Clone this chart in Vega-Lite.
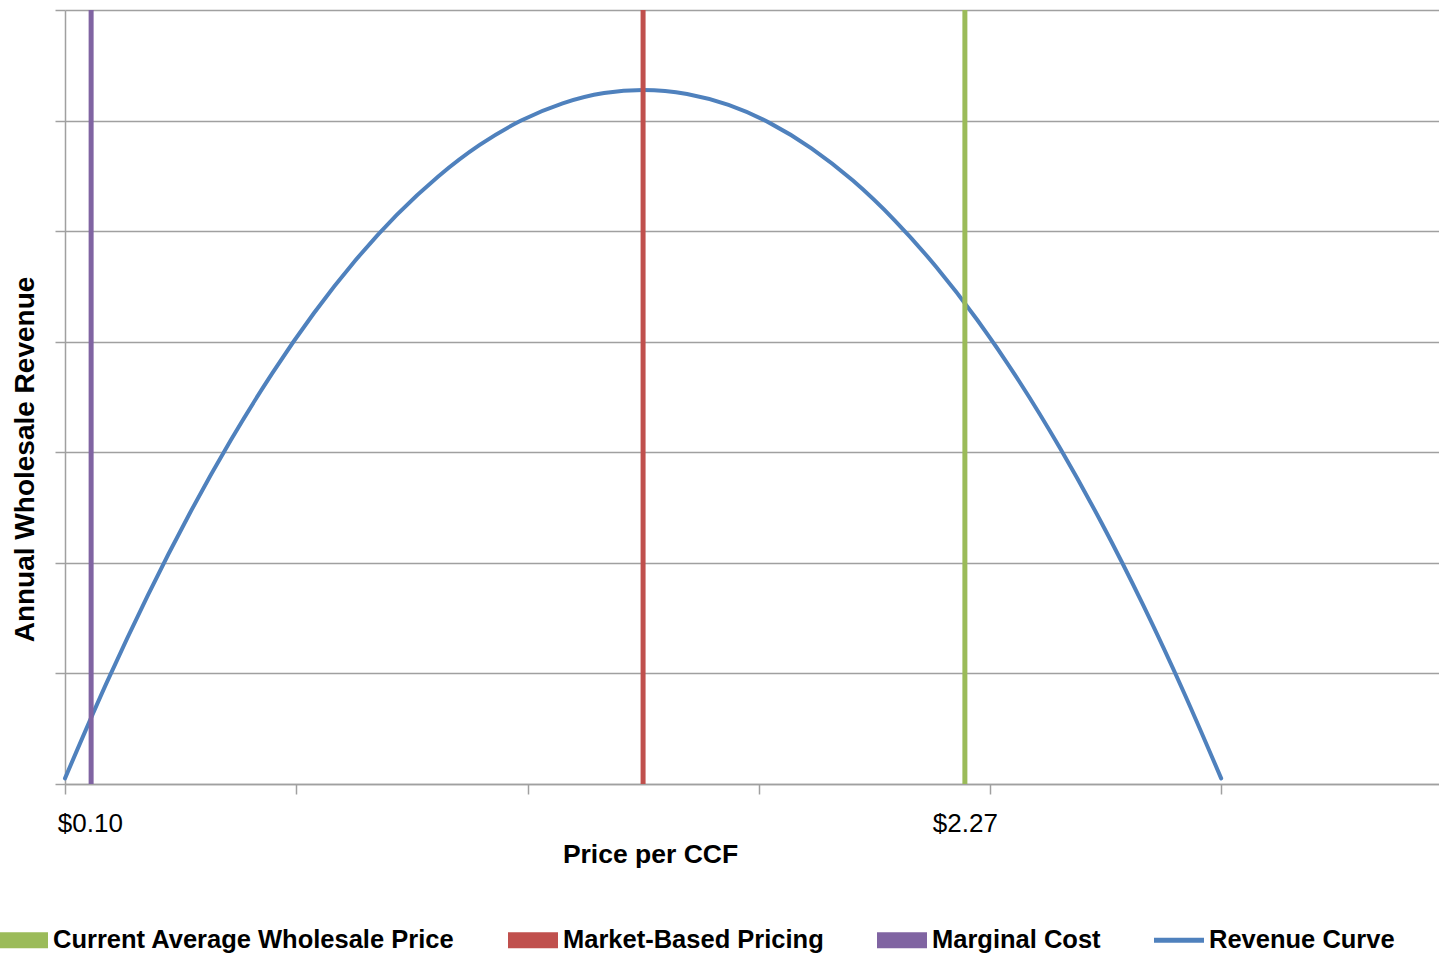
{
  "$schema": "https://vega.github.io/schema/vega-lite/v6.json",
  "width": 1374,
  "height": 774,
  "autosize": "none",
  "padding": {"left": 65, "top": 10, "right": 0, "bottom": 171},
  "background": "white",
  "config": {
    "view": {"stroke": null},
    "font": "Liberation Sans"
  },
  "layer": [
    {
      "data": {"values": [
        {"price": 0.10, "revenue": 0.051, "series": "Revenue Curve"},
        {"price": 0.20, "revenue": 0.912, "series": "Revenue Curve"},
        {"price": 0.30, "revenue": 1.709, "series": "Revenue Curve"},
        {"price": 0.40, "revenue": 2.442, "series": "Revenue Curve"},
        {"price": 0.50, "revenue": 3.111, "series": "Revenue Curve"},
        {"price": 0.60, "revenue": 3.716, "series": "Revenue Curve"},
        {"price": 0.70, "revenue": 4.257, "series": "Revenue Curve"},
        {"price": 0.80, "revenue": 4.734, "series": "Revenue Curve"},
        {"price": 0.90, "revenue": 5.147, "series": "Revenue Curve"},
        {"price": 1.00, "revenue": 5.495, "series": "Revenue Curve"},
        {"price": 1.10, "revenue": 5.780, "series": "Revenue Curve"},
        {"price": 1.20, "revenue": 6.000, "series": "Revenue Curve"},
        {"price": 1.30, "revenue": 6.156, "series": "Revenue Curve"},
        {"price": 1.40, "revenue": 6.249, "series": "Revenue Curve"},
        {"price": 1.494, "revenue": 6.277, "series": "Revenue Curve"},
        {"price": 1.60, "revenue": 6.241, "series": "Revenue Curve"},
        {"price": 1.70, "revenue": 6.141, "series": "Revenue Curve"},
        {"price": 1.80, "revenue": 5.977, "series": "Revenue Curve"},
        {"price": 1.90, "revenue": 5.749, "series": "Revenue Curve"},
        {"price": 2.00, "revenue": 5.457, "series": "Revenue Curve"},
        {"price": 2.10, "revenue": 5.100, "series": "Revenue Curve"},
        {"price": 2.20, "revenue": 4.680, "series": "Revenue Curve"},
        {"price": 2.30, "revenue": 4.196, "series": "Revenue Curve"},
        {"price": 2.40, "revenue": 3.647, "series": "Revenue Curve"},
        {"price": 2.50, "revenue": 3.034, "series": "Revenue Curve"},
        {"price": 2.60, "revenue": 2.358, "series": "Revenue Curve"},
        {"price": 2.70, "revenue": 1.617, "series": "Revenue Curve"},
        {"price": 2.80, "revenue": 0.812, "series": "Revenue Curve"},
        {"price": 2.888, "revenue": 0.051, "series": "Revenue Curve"}
      ]},
      "mark": {"type": "line", "strokeWidth": 4, "interpolate": "monotone", "strokeCap": "round"},
      "encoding": {
        "x": {
          "field": "price", "type": "quantitative",
          "scale": {"domain": [0.10, 3.4133], "nice": false, "zero": false},
          "axis": {
            "values": [0.10, 0.16, 0.6577, 1.2154, 1.7731, 2.27, 2.3308, 2.8885],
            "grid": false,
            "domainColor": "#a0a0a0",
            "domainWidth": 1.5,
            "tickColor": "#a0a0a0",
            "tickSize": 10,
            "tickWidth": 1.5,
            "tickOpacity": {"condition": {"test": "abs(datum.value-0.16)<0.001 || abs(datum.value-2.27)<0.001", "value": 0}, "value": 1},
            "labelExpr": "abs(datum.value-0.16)<0.001 ? '$0.10' : (abs(datum.value-2.27)<0.001 ? '$2.27' : '')",
            "labelFontSize": 26,
            "labelColor": "#000000",
            "labelPadding": 16,
            "labelOverlap": false,
            "title": "Price per CCF",
            "titleFontSize": 26.5,
            "titleFontWeight": "bold",
            "titleColor": "#000000",
            "titleX": 585,
            "titleY": 70,
            "titleBaseline": "middle",
            "titleAlign": "center"
          }
        },
        "y": {
          "field": "revenue", "type": "quantitative",
          "scale": {"domain": [0, 7], "nice": false},
          "axis": {
            "values": [0, 1, 2, 3, 4, 5, 6, 7],
            "grid": true,
            "gridColor": "#a0a0a0",
            "gridWidth": 1.5,
            "domainColor": "#a0a0a0",
            "domainWidth": 1.5,
            "tickColor": "#a0a0a0",
            "tickSize": 10,
            "tickWidth": 1.5,
            "labels": false,
            "title": "Annual Wholesale Revenue",
            "titleFontSize": 28,
            "titleFontWeight": "bold",
            "titleColor": "#000000",
            "titleAngle": -90,
            "titleX": -40,
            "titleY": 449,
            "titleBaseline": "middle",
            "titleAlign": "center"
          }
        },
        "color": {
          "field": "series", "type": "nominal",
          "scale": {
            "domain": ["Current Average Wholesale Price", "Market-Based Pricing", "Marginal Cost", "Revenue Curve"],
            "range": ["#9bbb59", "#c0504d", "#8064a2", "#4f81bd"]
          },
          "legend": {
            "orient": "none",
            "direction": "horizontal",
            "legendX": -67,
            "legendY": 905,
            "title": null,
            "symbolType": "M-1,-0.32H1V0.32H-1Z",
            "symbolSize": 2500,
            "symbolStrokeWidth": 0,
            "labelFontSize": 25.5,
            "labelFontWeight": "bold",
            "labelColor": "#000000",
            "labelOffset": 5,
            "columnPadding": 53,
            "labelLimit": 600,
            "encode": {
              "symbols": {"update": {
                "shape": {"signal": "datum.value === 'Revenue Curve' ? 'M-1,-0.1H1V0.1H-1Z' : 'M-1,-0.32H1V0.32H-1Z'"},
                "fill": {"signal": "scale('color', datum.value)"},
                "fillOpacity": {"value": 1},
                "strokeWidth": {"value": 0}
              }}
            }
          }
        }
      }
    },
    {
      "data": {"values": [
        {"price": 2.27, "series": "Current Average Wholesale Price"},
        {"price": 1.494, "series": "Market-Based Pricing"},
        {"price": 0.163, "series": "Marginal Cost"}
      ]},
      "mark": {"type": "rule", "strokeWidth": 5},
      "encoding": {
        "x": {"field": "price", "type": "quantitative"},
        "color": {"field": "series", "type": "nominal"}
      }
    }
  ]
}
